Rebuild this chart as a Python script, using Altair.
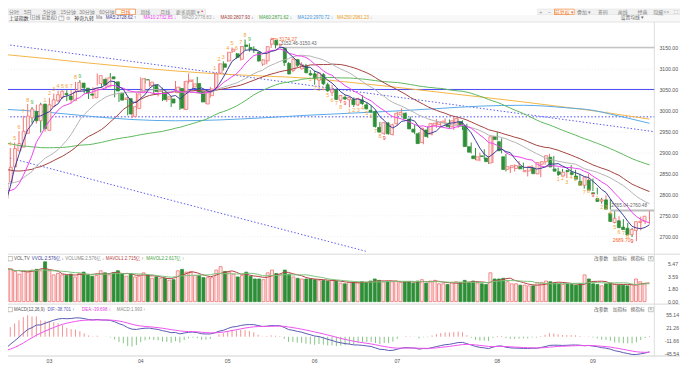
import altair as alt
import pandas as pd
import numpy as np

CJK = "Noto Sans CJK SC"
MIX = "Liberation Sans, Noto Sans CJK SC"

# ---------------- data ----------------
# closes before the first visible day (used only for the moving averages / MACD / nine-count)
pre_closes = [3023.08, 3009.41, 3030.80, 3058.41, 3057.27, 3052.37, 3053.28, 3038.97, 3046.53, 3056.07,
              3072.83, 3050.93, 3054.37, 3068.32, 3067.93, 3043.61, 3061.86, 3040.97, 3031.70, 3038.55,
              3021.69, 3029.67,
              3031.64, 3022.91, 2972.30, 2968.93, 2966.21, 2969.56, 3003.45, 3003.42, 2968.76, 2958.99,
              2942.56, 2930.80, 2932.39, 2902.11, 2918.71, 2914.78, 2918.81, 2898.87, 2914.61, 2954.70,
              2974.93,
              2962.28, 2967.25, 2954.35, 2929.18, 2887.54, 2893.25, 2877.70, 2886.65, 2881.98, 2886.29,
              2893.99, 2833.62, 2845.78, 2832.28, 2756.34, 2770.74, 2820.77, 2906.11, 2910.22, 2883.36,
              2830.53, 2788.55,
              2770.74, 2730.15, 2702.19, 2789.49]

dates = ["02-07", "02-08", "02-19", "02-20", "02-21", "02-22", "02-23", "02-26", "02-27", "02-28",
         "02-29", "03-01", "03-04", "03-05", "03-06", "03-07", "03-08", "03-11", "03-12", "03-13",
         "03-14", "03-15", "03-18", "03-19", "03-20", "03-21", "03-22", "03-25", "03-26", "03-27",
         "03-28", "03-29", "04-01", "04-02", "04-03", "04-08", "04-09", "04-10", "04-11", "04-12",
         "04-15", "04-16", "04-17", "04-18", "04-19", "04-22", "04-23", "04-24", "04-25", "04-26",
         "04-29", "04-30", "05-06", "05-07", "05-08", "05-09", "05-10", "05-13", "05-14", "05-15",
         "05-16", "05-17", "05-20", "05-21", "05-22", "05-23", "05-24", "05-27", "05-28", "05-29",
         "05-30", "05-31", "06-03", "06-04", "06-05", "06-06", "06-07", "06-11", "06-12", "06-13",
         "06-14", "06-17", "06-18", "06-19", "06-20", "06-21", "06-24", "06-25", "06-26", "06-27",
         "06-28", "07-01", "07-02", "07-03", "07-04", "07-05", "07-08", "07-09", "07-10", "07-11",
         "07-12", "07-15", "07-16", "07-17", "07-18", "07-19", "07-22", "07-23", "07-24", "07-25",
         "07-26", "07-29", "07-30", "07-31", "08-01", "08-02", "08-05", "08-06", "08-07", "08-08",
         "08-09", "08-12", "08-13", "08-14", "08-15", "08-16", "08-19", "08-20", "08-21", "08-22",
         "08-23", "08-26", "08-27", "08-28", "08-29", "08-30", "09-02", "09-03", "09-04", "09-05",
         "09-06", "09-09", "09-10", "09-11", "09-12", "09-13", "09-18", "09-19", "09-20", "09-23"]

opens = [2791, 2831, 2867, 2905, 2914, 2947, 2984, 2999, 2977, 3017,
         2954, 3011, 3025, 3032, 3042, 3036, 3025, 3048, 3067, 3055,
         3041, 3032, 3066, 3076, 3058, 3082, 3070, 3043, 3028, 3030,
         2987, 3006, 3044, 3075, 3061, 3062, 3047, 3044, 3028, 3029,
         3044, 3054, 3004, 3071, 3058, 3066, 3046, 3017, 3037, 3055,
         3091, 3113, 3120, 3143, 3137, 3124, 3158, 3152, 3148, 3141,
         3112, 3120, 3160, 3169, 3158, 3150, 3114, 3097, 3123, 3101,
         3108, 3090, 3089, 3074, 3087, 3063, 3045, 3051, 3026, 3033,
         3027, 3028, 3015, 3027, 3015, 3002, 2999, 2961, 2947, 2972,
         2944, 2970, 2991, 2995, 2981, 2957, 2946, 2925, 2955, 2945,
         2966, 2968, 2972, 2971, 2963, 2969, 2975, 2965, 2915, 2893,
         2883, 2893, 2888, 2876, 2939, 2927, 2891, 2861, 2865, 2863,
         2868, 2855, 2857, 2864, 2850, 2873, 2879, 2890, 2862, 2855,
         2845, 2858, 2853, 2845, 2832, 2823, 2835, 2805, 2791, 2785,
         2788, 2756, 2734, 2738, 2723, 2720, 2705, 2715, 2734, 2737]

highs = [2838, 2874, 2912, 2925, 2952, 2989, 3017, 3010, 3015.6, 3020,
         3016, 3032, 3042, 3049, 3049, 3050, 3050, 3070, 3074, 3067,
         3048, 3057, 3090, 3078, 3080, 3091, 3072, 3044, 3041, 3035,
         3015, 3044, 3081, 3079, 3075, 3066, 3055, 3056, 3040, 3036,
         3072, 3058, 3072, 3090, 3076, 3082, 3049, 3045, 3058, 3092,
         3114, 3119, 3141, 3152, 3139, 3155, 3171, 3162, 3155, 3142,
         3124, 3155, 3174.27, 3170, 3162, 3150.43, 3117, 3126, 3124, 3117,
         3113, 3098, 3097, 3091, 3091, 3068, 3063, 3052, 3038, 3038,
         3035, 3033, 3032, 3038, 3021, 3014, 3002, 2974, 2973, 2973,
         2970, 2999, 3007, 2997, 2987, 2968, 2950, 2960, 2964, 2971,
         2981, 2976, 2983, 2980, 2986, 2983, 2978, 2970, 2925, 2912,
         2901, 2909, 2892, 2941, 2950, 2935, 2898, 2869, 2873, 2881,
         2877, 2863, 2871, 2868, 2879, 2891, 2898, 2893, 2865, 2862,
         2860, 2871, 2860, 2850, 2838, 2851, 2839, 2817, 2793, 2799,
         2790, 2760.48, 2749, 2742, 2733, 2721, 2724, 2748, 2745, 2761]

lows = [2761, 2826, 2860, 2897, 2906, 2942, 2983, 2971, 2970, 2949,
        2951, 3004, 3020, 3021, 3030, 3024, 3019, 3041, 3050, 3042,
        3029, 3029, 3061, 3056, 3052, 3072, 3033, 3022, 3027, 2990,
        2983, 3003, 3043, 3066, 3058, 3040, 3035, 3024, 3022, 3010,
        3044, 3003, 3003, 3066, 3055, 3043, 3021, 3017, 3032, 3054,
        3089, 3097, 3118, 3139, 3125, 3121, 3146, 3142, 3139, 3118,
        3108, 3112, 3151, 3150, 3152.46, 3108, 3088, 3093, 3105, 3100,
        3091, 3084, 3063, 3060, 3062, 3046, 3036, 3027, 3019, 3027,
        3009, 3010, 3012, 3015, 3004, 2996, 2961, 2949, 2943, 2944,
        2942, 2965, 2989, 2981, 2957, 2945, 2922, 2921, 2936, 2942,
        2960, 2962, 2966, 2959, 2955, 2960, 2955, 2915, 2899, 2883,
        2880, 2885, 2874, 2876, 2930, 2899, 2856, 2852, 2856, 2861,
        2860, 2844, 2853, 2850, 2842, 2872, 2875, 2863, 2845, 2848,
        2840, 2852, 2845, 2833, 2815, 2817, 2809, 2801, 2779, 2779,
        2765.04, 2732, 2720, 2718, 2710, 2699, 2689.70, 2715, 2730, 2731]

closes = [2829.70, 2865.90, 2910.54, 2922.73, 2951.82, 2988.36, 3004.88, 2977.02, 3015.48, 2957.85,
          3015.17, 3027.02, 3039.31, 3047.79, 3039.93, 3027.40, 3046.02, 3068.46, 3055.94, 3043.83,
          3038.23, 3054.64, 3084.93, 3062.76, 3079.69, 3077.11, 3048.03, 3026.31, 3031.48, 2993.14,
          3010.66, 3041.17, 3077.38, 3074.96, 3069.30, 3047.05, 3048.54, 3027.34, 3034.25, 3019.47,
          3057.38, 3007.07, 3071.38, 3074.22, 3065.26, 3044.60, 3021.98, 3044.82, 3052.90, 3088.64,
          3113.04, 3104.82, 3140.72, 3147.74, 3128.48, 3154.32, 3154.55, 3148.02, 3145.77, 3119.90,
          3122.40, 3154.03, 3171.15, 3157.97, 3158.54, 3116.39, 3088.87, 3124.04, 3109.57, 3111.02,
          3091.68, 3086.81, 3078.49, 3091.20, 3065.40, 3048.79, 3051.28, 3028.05, 3037.47, 3028.92,
          3032.63, 3015.89, 3030.25, 3018.05, 3005.44, 2998.14, 2963.10, 2950.00, 2972.53, 2945.85,
          2967.40, 2994.73, 2997.01, 2982.38, 2957.57, 2949.93, 2922.45, 2959.37, 2939.36, 2970.39,
          2971.30, 2974.01, 2976.30, 2962.85, 2977.13, 2982.31, 2964.22, 2915.37, 2901.95, 2886.43,
          2890.90, 2891.85, 2879.30, 2938.75, 2932.39, 2905.34, 2860.70, 2867.28, 2869.90, 2869.83,
          2862.19, 2858.20, 2867.95, 2850.65, 2877.36, 2879.43, 2893.67, 2866.66, 2856.58, 2848.77,
          2854.37, 2855.52, 2848.73, 2837.43, 2823.11, 2842.21, 2811.04, 2802.98, 2784.28, 2788.31,
          2765.81, 2736.49, 2744.19, 2721.80, 2717.12, 2704.09, 2717.28, 2736.02, 2736.81, 2748.92]

volumes = [4.9, 4.8, 4.4, 4.0, 4.5, 4.3, 4.6, 4.7, 4.5, 5.8,
           4.5, 3.9, 4.1, 3.9, 3.8, 4.0, 3.6, 4.1, 4.3, 4.0,
           3.7, 3.8, 4.5, 4.2, 3.9, 4.2, 4.5, 4.1, 3.7, 4.1,
           3.6, 3.7, 4.2, 3.9, 3.4, 3.6, 3.4, 3.4, 3.1, 3.2,
           4.5, 4.7, 4.3, 4.4, 3.8, 3.8, 3.5, 3.5, 3.5, 4.6,
           5.1, 4.4, 4.3, 4.0, 3.6, 3.8, 4.3, 3.7, 3.3, 3.3,
           3.2, 4.2, 4.6, 4.1, 4.0, 4.6, 4.0, 3.6, 3.4, 3.3,
           3.3, 3.3, 3.2, 3.1, 3.1, 3.0, 3.1, 3.0, 2.7, 2.6,
           2.8, 2.8, 2.8, 2.9, 2.8, 3.0, 3.3, 3.1, 2.9, 2.9,
           2.9, 3.0, 2.8, 2.9, 2.9, 2.7, 3.0, 3.2, 2.7, 3.0,
           3.1, 2.6, 2.6, 2.5, 2.8, 2.9, 2.8, 3.1, 2.8, 3.0,
           2.7, 2.6, 2.5, 4.2, 3.3, 3.3, 3.4, 2.9, 2.6, 2.6,
           2.4, 2.4, 2.3, 2.3, 2.8, 2.8, 3.0, 2.9, 2.7, 2.6,
           2.5, 2.6, 2.5, 2.4, 2.6, 3.9, 3.3, 2.6, 2.5, 2.3,
           2.6, 2.7, 2.5, 2.4, 2.394, 2.3, 2.5, 3.3, 2.9, 2.576]

# long moving averages
long_ma_idx = [0, 10, 20, 30, 40, 50, 60, 70, 80, 90, 100, 110, 120, 130, 136, 140, 149]
ma120_vals = [3005, 2998, 2988, 2980, 2977, 2979, 2984, 2990, 2995, 3000, 3006, 3012, 3014, 3008, 3002, 2993, 2971]
ma250_vals = [3136, 3126, 3115, 3105, 3096, 3089, 3084, 3079, 3069, 3058, 3046, 3034, 3022, 3009, 3001, 2995, 2981]

price_ticks = [3150, 3100, 3050, 3000, 2950, 2900, 2850, 2800, 2750, 2700]
vol_ticks = [5.47, 3.59, 1.80, 0.00]
macd_ticks = [55.14, 21.26, -11.66, -45.54]
month_idx = [11, 32, 52, 72, 91, 114, 136]
month_labels = ["03", "04", "05", "06", "07", "08", "09"]

# hand-drawn lines on the chart
trend_upper_i = [-0.4, 150.1]
trend_upper_p = [3161.1, 2951.0]
trend_lower_i = [-0.4, 83.75]
trend_lower_p = [2894.3, 2665.3]
level_solid = 3051.8
level_dotted = 2986.4
gap_hi = [3150.43, 3152.46]
gap_hi_start = 64
gap_lo = [2760.48, 2765.04]
gap_lo_start = 140
high_idx, high_val = 62, 3174.27
low_idx, low_val = 146, 2689.70

# ---------------- colours ----------------
UP_LINE = "#f07272"
UP_FILL = "#fde9e9"
DOWN = "#2f8f38"
MA_COL = {"MA5": "#3b3b98", "MA10": "#f040f0", "MA20": "#b4b4b4", "MA30": "#a3413d",
          "MA60": "#5cb85c", "MA120": "#56a9ea", "MA250": "#f4b546"}

# ---------------- derived tables ----------------
n_pre = len(pre_closes)
allc = pd.Series(pre_closes + closes, dtype=float)
ind = pd.DataFrame({"i": np.arange(-n_pre, len(closes))})
for k in (5, 10, 20, 30, 60):
    ind[f"MA{k}"] = allc.rolling(k).mean()
ema12 = allc.ewm(span=12, adjust=False).mean()
ema26 = allc.ewm(span=26, adjust=False).mean()
ind["DIF"] = ema12 - ema26
ind["DEA"] = ind["DIF"].ewm(span=9, adjust=False).mean()
ind["MACD"] = 2 * (ind["DIF"] - ind["DEA"])

# nine-count (TD sequential style)
c = allc.values
upc = np.zeros(len(c), int)
dnc = np.zeros(len(c), int)
cu = cd_ = 0
for k in range(len(c)):
    cu = cu + 1 if (k >= 4 and c[k] > c[k - 4]) else 0
    cd_ = cd_ + 1 if (k >= 4 and c[k] < c[k - 4]) else 0
    upc[k], dnc[k] = cu, cd_
    if cu == 9:
        cu = 0
    if cd_ == 9:
        cd_ = 0
td_rows = []
for k in range(len(c)):
    for arr, kind in ((upc, "up"), (dnc, "dn")):
        if arr[k] == 9:
            for j in range(9):
                ii = k - 8 + j - n_pre
                if ii >= 0:
                    col = "#f5a338"
                    if j == 8:
                        col = "#4cb84c" if kind == "up" else "#f03030"
                    td_rows.append({"i": ii, "t": str(j + 1), "kind": kind,
                                    "p": highs[ii] if kind == "up" else lows[ii], "col": col})
td = pd.DataFrame(td_rows)

cdl = pd.DataFrame({"i": np.arange(len(closes)), "date": dates, "open": opens, "high": highs,
                    "low": lows, "close": closes, "vol": volumes})
upmask = cdl["close"] >= cdl["open"]
cdl["col"] = np.where(upmask, UP_LINE, DOWN)
cdl["fillc"] = np.where(upmask, UP_FILL, DOWN)
cdl["zero"] = 0.0
cdl["MAVOL1"] = cdl["vol"].rolling(5, min_periods=1).mean()
cdl["MAVOL2"] = cdl["vol"].rolling(10, min_periods=1).mean()

vis = ind[ind["i"] >= -3]
ma_rows = []
for k in (60, 30, 20, 10, 5):
    for ii, v in zip(vis["i"], vis[f"MA{k}"]):
        ma_rows.append({"i": ii, "v": v, "s": f"MA{k}", "col": MA_COL[f"MA{k}"]})
ma_df = pd.DataFrame(ma_rows)
long_df = pd.DataFrame({"i": long_ma_idx * 2, "v": ma250_vals + ma120_vals,
                        "s": ["MA250"] * len(long_ma_idx) + ["MA120"] * len(long_ma_idx)})
long_df["col"] = long_df["s"].map(MA_COL)

macd_df = ind[ind["i"] >= 0].copy()
macd_df["zero"] = 0.0
macd_df["mcol"] = np.where(macd_df["MACD"] >= 0, "#f29090", "#86c486")
macd_lines = ind[ind["i"] >= -2].melt(id_vars="i", value_vars=["DIF", "DEA"], var_name="s", value_name="v")
macd_lines["col"] = macd_lines["s"].map({"DIF": "#5858b4", "DEA": "#f050f0"})

vol_lines = cdl.melt(id_vars="i", value_vars=["MAVOL1", "MAVOL2"], var_name="s", value_name="v")
vol_lines["col"] = vol_lines["s"].map({"MAVOL1": "#b44040", "MAVOL2": "#7cc47c"})

# ---------------- scales (pixel ranges inside the 680 x 360 canvas) ----------------
XS = alt.Scale(domain=[0, 149], range=[-6.5, 649.1], nice=False, zero=False)
PS = alt.Scale(domain=[2700, 3150], range=[229.3, 38.7], nice=False, zero=False)
VS = alt.Scale(domain=[0, 5.47], range=[295, 257], nice=False, zero=False)
MS = alt.Scale(domain=[-45.54, 55.14], range=[348.5, 308.7], nice=False, zero=False)


def X(f="i"):
    return alt.X(f"{f}:Q", scale=XS, axis=None)


def Yp(f, s=PS):
    return alt.Y(f"{f}:Q", scale=s, axis=None)


def ptext(rows, align="left", baseline="middle", font=MIX):
    d = pd.DataFrame(rows, columns=["x", "y", "t", "c", "s"])
    return alt.Chart(d).mark_text(align=align, baseline=baseline, font=font).encode(
        x=alt.X("x:Q", scale=None), y=alt.Y("y:Q", scale=None), text="t:N",
        color=alt.Color("c:N", scale=None), size=alt.Size("s:Q", scale=None))


def prect(rows):
    d = pd.DataFrame(rows, columns=["x", "x2", "y", "y2", "f", "st"])
    return alt.Chart(d).mark_rect(strokeWidth=0.7).encode(
        x=alt.X("x:Q", scale=None), x2="x2:Q", y=alt.Y("y:Q", scale=None), y2="y2:Q",
        fill=alt.Fill("f:N", scale=None), stroke=alt.Stroke("st:N", scale=None))


def prule(rows, width=1):
    d = pd.DataFrame(rows, columns=["x", "x2", "y", "y2", "c"])
    return alt.Chart(d).mark_rule(strokeWidth=width).encode(
        x=alt.X("x:Q", scale=None), x2="x2:Q", y=alt.Y("y:Q", scale=None), y2="y2:Q",
        color=alt.Color("c:N", scale=None))


layers = []

# backgrounds of the tool bars
layers.append(prect([
    [0, 200, -1, 4.6, "#f1f1f1", "#e2e2e2"],
    [109, 129, -1, 4.6, "#ffffff", "#f08030"],
    [536, 554, -1, 4.6, "#f4f4f4", "#e2e2e2"],
    [553, 573, -1, 4.6, "#ffffff", "#f08030"],
    [574, 680, -1, 4.6, "#f1f1f1", "#e2e2e2"],
    [0, 680, 5, 12, "#f8f8f8", "transparent"],
    [51.5, 56.5, 6, 10.4, "#ffffff", "#aaaaaa"],
    [0, 4.5, 249.3, 253.7, "#ffffff", "#aaaaaa"],
    [0, 4.5, 300.8, 305.2, "#ffffff", "#aaaaaa"],
    [648, 653, 249.3, 253.7, "#ffffff", "#aaaaaa"],
    [648, 653, 300.8, 305.2, "#ffffff", "#aaaaaa"],
]))

# grid lines of the price panel
grid = pd.DataFrame({"p": price_ticks})
layers.append(alt.Chart(grid).mark_rule(strokeWidth=0.6, strokeDash=[1, 2], color="#e3e3e3").encode(
    y=Yp("p"), x=alt.value(0), x2=alt.value(654)))

# panel separators
layers.append(prule([
    [0, 680, 12, 12, "#e3e3e3"],
    [0, 680, 247, 247, "#d8d8d8"],
    [0, 680, 297.5, 297.5, "#d8d8d8"],
    [0, 680, 350, 350, "#d0d0d0"],
    [654, 654, 12, 350, "#dcdcdc"],
]))

# hand-drawn lines
tl = pd.DataFrame({"i": trend_upper_i + trend_lower_i, "p": trend_upper_p + trend_lower_p,
                   "g": ["a", "a", "b", "b"]})
layers.append(alt.Chart(tl).mark_line(strokeWidth=1, strokeDash=[1.5, 2], color="#5a5af0").encode(
    x=X(), y=Yp("p"), detail="g:N"))
lv = pd.DataFrame({"i": [-2, 150.1, -2, 150.1], "p": [level_solid, level_solid, level_dotted, level_dotted],
                   "g": ["s", "s", "d", "d"]})
layers.append(alt.Chart(lv[lv.g == "s"]).mark_line(strokeWidth=1, color="#4646f5").encode(
    x=X(), y=Yp("p")))
layers.append(alt.Chart(lv[lv.g == "d"]).mark_line(strokeWidth=1, strokeDash=[1.5, 2], color="#4646f5").encode(
    x=X(), y=Yp("p")))

# price gaps
gaps = pd.DataFrame({"i": [gap_hi_start, gap_lo_start], "i2": [150.1, 150.1],
                     "lo": [gap_hi[0], gap_lo[0]], "hi": [gap_hi[1], gap_lo[1]],
                     "lbl": [f"{gap_hi[1]:.2f}-{gap_hi[0]:.2f}", f"{gap_lo[1]:.2f}-{gap_lo[0]:.2f}"]})
layers.append(alt.Chart(gaps).mark_rect(color="#bdbdbd").encode(
    x=X(), x2="i2:Q", y=Yp("lo"), y2="hi:Q"))
layers.append(alt.Chart(gaps.iloc[[0]]).mark_rule(color="#c4c4c4", strokeWidth=1.4).encode(
    x=X(), x2="i2:Q", y=Yp("hi")))

# long moving averages
layers.append(alt.Chart(long_df).mark_line(strokeWidth=1, interpolate="monotone").encode(
    x=X(), y=Yp("v"), detail="s:N", color=alt.Color("col:N", scale=None)))

# candles
layers.append(alt.Chart(cdl).mark_rule(strokeWidth=1).encode(
    x=X(), y=Yp("low"), y2="high:Q", color=alt.Color("col:N", scale=None)))
layers.append(alt.Chart(cdl).mark_bar(size=3, strokeWidth=0.8).encode(
    x=X(), y=Yp("open"), y2="close:Q",
    fill=alt.Fill("fillc:N", scale=None), stroke=alt.Stroke("col:N", scale=None)))

# short moving averages
layers.append(alt.Chart(ma_df).mark_line(strokeWidth=1).encode(
    x=X(), y=Yp("v"), detail="s:N", color=alt.Color("col:N", scale=None)))

# nine-count labels
if len(td):
    layers.append(alt.Chart(td[td.kind == "up"]).mark_text(baseline="bottom", dy=-1.5, font=MIX, fontSize=5.4).encode(
        x=X(), y=Yp("p"), text="t:N", color=alt.Color("col:N", scale=None)))
    layers.append(alt.Chart(td[td.kind == "dn"]).mark_text(baseline="top", dy=1.5, font=MIX, fontSize=5.4).encode(
        x=X(), y=Yp("p"), text="t:N", color=alt.Color("col:N", scale=None)))

# gap labels and extreme labels
layers.append(alt.Chart(gaps).mark_text(align="left", baseline="bottom", dx=1, dy=-1.5, font=MIX,
                                        fontSize=4.8, color="#666666").encode(
    x=X(), y=Yp("hi"), text="lbl:N"))
ext = pd.DataFrame({"i": [high_idx, low_idx], "p": [high_val, low_val],
                    "t": [f"{high_val:.2f}", f"{low_val:.2f}"]})
layers.append(alt.Chart(ext.iloc[[0]]).mark_text(align="left", baseline="middle", dx=8, dy=1, font=MIX,
                                                 fontSize=5.0, color="#f0662e").encode(
    x=X(), y=Yp("p"), text="t:N"))
layers.append(alt.Chart(ext.iloc[[1]]).mark_text(align="right", baseline="middle", dx=-6, dy=-1, font=MIX,
                                                 fontSize=5.0, color="#f0662e").encode(
    x=X(), y=Yp("p"), text="t:N"))
lead = pd.DataFrame({"i": [high_idx], "i2": [high_idx + 1.6], "p": [high_val], "p2": [high_val - 2.5]})
layers.append(alt.Chart(lead).mark_rule(color="#f0662e", strokeWidth=0.8).encode(
    x=X(), x2="i2:Q", y=Yp("p"), y2="p2:Q"))

# volume panel
layers.append(alt.Chart(cdl).mark_bar(size=3, strokeWidth=0.8).encode(
    x=X(), y=Yp("vol", VS), y2="zero:Q",
    fill=alt.Fill("fillc:N", scale=None), stroke=alt.Stroke("col:N", scale=None)))
layers.append(alt.Chart(vol_lines).mark_line(strokeWidth=1).encode(
    x=X(), y=Yp("v", VS), detail="s:N", color=alt.Color("col:N", scale=None)))

# MACD panel
layers.append(alt.Chart(macd_df).mark_rule(strokeWidth=1).encode(
    x=X(), y=Yp("MACD", MS), y2="zero:Q", color=alt.Color("mcol:N", scale=None)))
layers.append(alt.Chart(macd_lines).mark_line(strokeWidth=1).encode(
    x=X(), y=Yp("v", MS), detail="s:N", color=alt.Color("col:N", scale=None)))

# right-hand axis labels
pt = pd.DataFrame({"p": price_ticks, "t": [f"{v:.2f}" for v in price_ticks]})
layers.append(alt.Chart(pt).mark_text(align="right", baseline="middle", font=MIX, fontSize=5.2,
                                      color="#555555").encode(y=Yp("p"), x=alt.value(678), text="t:N"))
vt = pd.DataFrame({"p": vol_ticks, "t": [f"{v:.2f}" for v in vol_ticks]})
layers.append(alt.Chart(vt).mark_text(align="right", baseline="middle", font=MIX, fontSize=5.2,
                                      color="#555555").encode(y=Yp("p", VS), x=alt.value(678), text="t:N"))
mt = pd.DataFrame({"p": macd_ticks, "t": [f"{v:.2f}" for v in macd_ticks]})
layers.append(alt.Chart(mt).mark_text(align="right", baseline="middle", font=MIX, fontSize=5.2,
                                      color="#555555").encode(y=Yp("p", MS), x=alt.value(679), text="t:N"))
mo = pd.DataFrame({"i": month_idx, "t": month_labels})
layers.append(alt.Chart(mo).mark_text(align="center", baseline="middle", font=MIX, fontSize=5.2,
                                      color="#555555").encode(x=X(), y=alt.value(355), text="t:N"))

# tool bar row 1
row1 = [[6, 2.2, "分时", "#888888", 5.0], [20, 2.2, "5日", "#888888", 5.0], [42, 2.2, "5分钟", "#888888", 5.0],
        [61, 2.2, "15分钟", "#888888", 5.0], [80, 2.2, "30分钟", "#888888", 5.0],
        [100, 2.2, "60分钟", "#888888", 5.0], [119, 2.2, "日线", "#f07020", 5.0],
        [139, 2.2, "周线", "#888888", 5.0], [159, 2.2, "月线", "#888888", 5.0],
        [182, 2.2, "更多周期 ▾", "#888888", 5.0], [196.5, 0.8, "•", "#ff2020", 5.5],
        [539, 2.2, "+", "#999999", 6], [548, 2.2, "−", "#999999", 6], [563, 2.2, "前复权 ▾", "#f07020", 5.0],
        [583, 2.2, "叠加 ▾", "#888888", 5.0], [602, 2.2, "筹码", "#888888", 5.0],
        [622, 2.2, "画线", "#888888", 5.0], [642, 2.2, "经典", "#888888", 5.0],
        [661, 2.2, "隐藏>>", "#888888", 5.0], [676, 2.2, "⛶", "#999999", 5.5]]
layers.append(ptext(row1, align="center"))

# header row 2 (main panel legend)
row2 = [[1, 8.2, "上证指数", "#333333", 5.0], [22, 8.2, "(日线 前复权)", "#666666", 4.6],
        [52.8, 8.2, "?", "#888888", 4.4], [59, 8.2, "⚙", "#999999", 5.2],
        [67, 8.2, "神奇九转", "#333333", 5.0], [89, 8.2, "Ma", "#777777", 4.6],
        [99, 8.2, "MA5:2728.62 ↑", MA_COL["MA5"], 4.6],
        [137, 8.2, "MA10:2732.85 ↓", MA_COL["MA10"], 4.6],
        [176, 8.2, "MA20:2778.83 ↓", "#9a9a9a", 4.6],
        [215, 8.2, "MA30:2807.93 ↓", MA_COL["MA30"], 4.6],
        [254, 8.2, "MA60:2871.62 ↓", "#3fa33f", 4.6],
        [293, 8.2, "MA120:2970.72 ↓", "#3d95e0", 4.6],
        [333, 8.2, "MA250:2981.23 ↓", "#eea020", 4.6],
        [620, 8.2, "设置均线 ▾", "#666666", 4.8]]
layers.append(ptext(row2))

# volume header
vh = [[6, 251.5, "VOL,TV", "#555555", 4.5],
      [24, 251.5, "VVOL:2.576亿 ↓", "#3b3b98", 4.5],
      [58, 251.5, "VOLUME:2.576亿 ↓", "#8a8a8a", 4.5],
      [99, 251.5, "MAVOL1:2.715亿 ↑", "#b44040", 4.5],
      [140, 251.5, "MAVOL2:2.617亿 ↑", "#3fa33f", 4.5],
      [593, 251.5, "改参数", "#666666", 4.8], [612, 251.5, "加指标", "#666666", 4.8],
      [630, 251.5, "换指标", "#666666", 4.8], [648.9, 251.5, "×", "#888888", 4.8]]
layers.append(ptext(vh))

# MACD header
mh = [[6, 303, "MACD(12,26,9)", "#555555", 4.5],
      [40, 303, "DIF:-38.701 ↑", "#5858b4", 4.5],
      [75, 303, "DEA:-39.698 ↑", "#e040e0", 4.5],
      [110, 303, "MACD:1.993 ↑", "#8a8a8a", 4.5],
      [593, 303, "改参数", "#666666", 4.8], [612, 303, "加指标", "#666666", 4.8],
      [630, 303, "换指标", "#666666", 4.8], [648.9, 303, "×", "#888888", 4.8]]
layers.append(ptext(mh))

chart = alt.layer(*layers).resolve_scale(x="independent", y="independent").properties(
    width=680, height=360, autosize=alt.AutoSizeParams(type="none"), padding=0, background="#ffffff"
).configure_view(stroke=None)

chart.save("out.html", embed_options={"renderer": "svg", "actions": False})
